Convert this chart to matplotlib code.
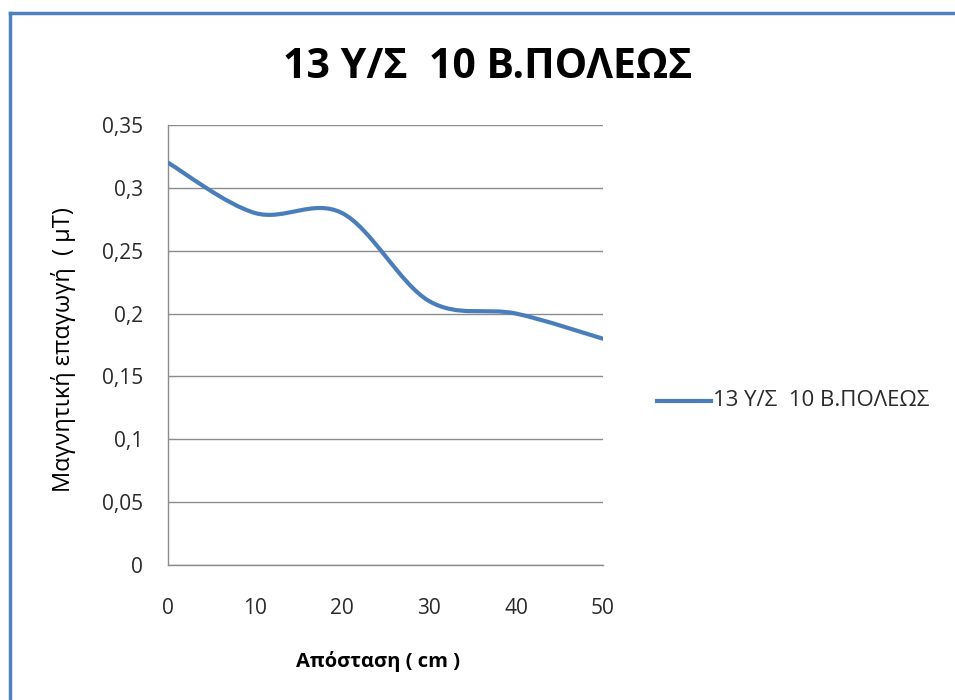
import numpy as np
import matplotlib
matplotlib.use("Agg")
import matplotlib.pyplot as plt
from matplotlib.path import Path
from matplotlib.patches import PathPatch
from matplotlib.lines import Line2D

plt.rcParams['font.family'] = ['Open Sans', 'DejaVu Sans']

distance = [0, 10, 20, 30, 40, 50]
induction = [0.32, 0.28, 0.28, 0.21, 0.20, 0.18]
y_ticks = [0, 0.05, 0.1, 0.15, 0.2, 0.25, 0.3, 0.35]
y_tick_labels = ["0", "0,05", "0,1", "0,15", "0,2", "0,25", "0,3", "0,35"]
x_ticks = [0, 10, 20, 30, 40, 50]
title = "13 Υ/Σ  10 Β.ΠΟΛΕΩΣ"
series_name = "13 Υ/Σ  10 Β.ΠΟΛΕΩΣ"

LINE_COLOR = "#4a7ebb"
TEXT_COLOR = "#2a2a2a"

fig = plt.figure(figsize=(9.55, 7.0), dpi=100)
ax = fig.add_axes([168 / 955, 1 - 565 / 700, (603 - 168) / 955, (565 - 125) / 700])

# smoothed line: cubic Bezier segments through the data points
px = np.array(distance, dtype=float)
py = np.array(induction, dtype=float)
n = len(px)
verts = [(px[0], py[0])]
codes = [Path.MOVETO]
for i in range(n - 1):
    p0 = np.array([px[max(i - 1, 0)], py[max(i - 1, 0)]])
    p1 = np.array([px[i], py[i]])
    p2 = np.array([px[i + 1], py[i + 1]])
    p3 = np.array([px[min(i + 2, n - 1)], py[min(i + 2, n - 1)]])
    c1 = p1 + (p2 - p0) / 6.0
    c2 = p2 - (p3 - p1) / 6.0
    verts += [tuple(c1), tuple(c2), tuple(p2)]
    codes += [Path.CURVE4] * 3
ax.add_patch(PathPatch(Path(verts, codes), facecolor="none", edgecolor=LINE_COLOR,
                       lw=3.0, capstyle="round", joinstyle="round", zorder=3))

ax.set_xlim(0, 50)
ax.set_ylim(0, 0.35)
ax.set_yticks(y_ticks)
ax.set_yticklabels(y_tick_labels)
ax.set_xticks(x_ticks)
ax.yaxis.grid(True, color="#8c8c8c", lw=1.0)
ax.set_axisbelow(True)
for s in ("top", "right"):
    ax.spines[s].set_visible(False)
for s in ("left", "bottom"):
    ax.spines[s].set_color("#8c8c8c")
    ax.spines[s].set_linewidth(1.0)
ax.tick_params(length=0, labelsize=15, labelcolor=TEXT_COLOR)
ax.tick_params(axis="y", pad=18)
ax.tick_params(axis="x", pad=24)

ax.set_xlabel("Απόσταση ( cm )", fontsize=14.5, fontweight="bold", va="center")
ax.xaxis.set_label_coords(0.5 - 8 / 435, -(662 - 565) / 440)
ax.set_ylabel("Μαγνητική επαγωγή  ( μT)", fontsize=17, va="center")
ax.yaxis.set_label_coords(-(168 - 64) / 435, 0.5 - 5 / 440)

fig.text(488 / 955, 1 - 67 / 700, title, ha="center", va="center",
         fontsize=29.5, fontweight="bold", color="#000000")

# legend entry
fig.add_artist(Line2D([657 / 955, 711 / 955], [1 - 401 / 700, 1 - 401 / 700],
                      color=LINE_COLOR, lw=3.0, transform=fig.transFigure))
fig.text(713 / 955, 1 - 401 / 700, series_name, ha="left", va="center",
         fontsize=16, color=TEXT_COLOR)

# frame lines along top and left edge
fig.add_artist(Line2D([10 / 955, 1.0], [1 - 13 / 700, 1 - 13 / 700],
                      color="#4f81bd", lw=2.5, transform=fig.transFigure))
fig.add_artist(Line2D([10 / 955, 10 / 955], [0.0, 1 - 13 / 700],
                      color="#4f81bd", lw=2.5, transform=fig.transFigure))

fig.savefig("out.png", dpi=100)
